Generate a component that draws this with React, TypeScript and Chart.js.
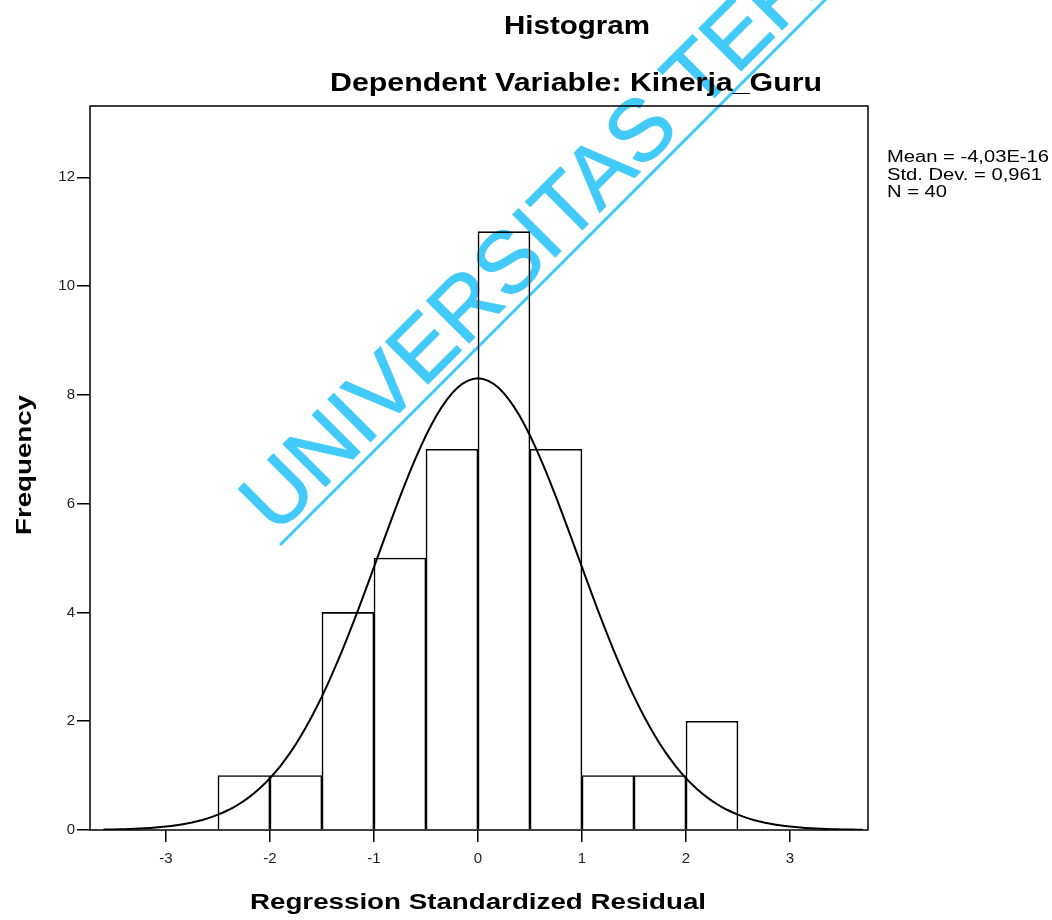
import React, { useEffect, useRef } from "react";
import { Chart, registerables } from "chart.js";

Chart.register(...registerables);

// Histogram bins (width 0.5) and their frequencies
const BIN_CENTERS = [-2.25, -1.75, -1.25, -0.75, -0.25, 0.25, 0.75, 1.25, 1.75, 2.25];
const FREQUENCIES = [1, 1, 4, 5, 7, 11, 7, 1, 1, 2];
const BIN_WIDTH = 0.5;

// Axis ticks
const X_TICKS = [-3, -2, -1, 0, 1, 2, 3];
const Y_TICKS = [0, 2, 4, 6, 8, 10, 12];

// Summary statistics shown next to the plot
const MEAN = -4.03e-16;
const STD_DEV = 0.961;
const N_CASES = 40;
const STATS_LINES = ["Mean = -4,03E-16", "Std. Dev. = 0,961", "N = 40"];

const TITLE = "Histogram";
const SUBTITLE = "Dependent Variable: Kinerja_Guru";
const X_TITLE = "Regression Standardized Residual";
const Y_TITLE = "Frequency";
const WATERMARK = "UNIVERSITAS TERBUKA";

const X_MIN = -3.73;
const X_MAX = 3.75;
const Y_MAX = 13.31;
const CURVE_FROM = -3.6;
const CURVE_TO = 3.7;
const CURVE_STEP = 0.05;

const FONT = '"Liberation Sans", Arial, Helvetica, sans-serif';

// Fitted normal curve, scaled to counts per bin
function normalCurve() {
  const pts: { x: number; y: number }[] = [];
  const scale = (N_CASES * BIN_WIDTH) / (STD_DEV * Math.sqrt(2 * Math.PI));
  const steps = Math.round((CURVE_TO - CURVE_FROM) / CURVE_STEP);
  for (let i = 0; i <= steps; i++) {
    const x = CURVE_FROM + i * CURVE_STEP;
    const z = (x - MEAN) / STD_DEV;
    pts.push({ x, y: scale * Math.exp(-0.5 * z * z) });
  }
  return pts;
}

// Draw text centred at (cx, cy), stretched along its baseline to a given width
function fitText(
  ctx: CanvasRenderingContext2D,
  text: string,
  cx: number,
  cy: number,
  font: string,
  width: number,
  angle = 0
) {
  ctx.save();
  ctx.font = font;
  const w = ctx.measureText(text).width;
  ctx.translate(cx, cy);
  ctx.rotate(angle);
  ctx.scale(width / w, 1);
  ctx.textAlign = "center";
  ctx.textBaseline = "middle";
  ctx.fillStyle = "#000";
  ctx.fillText(text, 0, 0);
  ctx.restore();
}

const decorations = {
  id: "decorations",
  afterDatasetsDraw(chart: any) {
    const { ctx, chartArea } = chart;
    ctx.save();
    ctx.strokeStyle = "#000";
    ctx.lineWidth = 1.5;
    ctx.strokeRect(
      chartArea.left,
      chartArea.top,
      chartArea.right - chartArea.left,
      chartArea.bottom - chartArea.top
    );
    ctx.restore();
  },
  afterDraw(chart: any) {
    const { ctx } = chart;
    fitText(ctx, TITLE, 577, 27, `bold 25px ${FONT}`, 146);
    fitText(ctx, SUBTITLE, 576, 84, `bold 25px ${FONT}`, 492);
    fitText(ctx, X_TITLE, 478, 903, `bold 22px ${FONT}`, 456);
    fitText(ctx, Y_TITLE, 25, 465, `bold 22px ${FONT}`, 140, -Math.PI / 2);

    // statistics block
    ctx.save();
    ctx.font = `16px ${FONT}`;
    const sx = 162 / ctx.measureText(STATS_LINES[0]).width;
    ctx.fillStyle = "#000";
    ctx.textBaseline = "middle";
    ctx.textAlign = "left";
    STATS_LINES.forEach((line, i) => {
      ctx.save();
      ctx.translate(887, 158 + i * 17.5);
      ctx.scale(sx, 1);
      ctx.fillText(line, 0, 0);
      ctx.restore();
    });
    ctx.restore();

    // diagonal watermark
    ctx.save();
    ctx.globalCompositeOperation = "darken";
    ctx.fillStyle = "rgb(66,202,250)";
    ctx.strokeStyle = "rgb(66,202,250)";
    ctx.lineWidth = 3;
    ctx.beginPath();
    ctx.moveTo(280, 545);
    ctx.lineTo(840, -15);
    ctx.stroke();
    ctx.translate(276, 536);
    ctx.rotate(-Math.PI / 4);
    ctx.font = `87px ${FONT}`;
    ctx.textBaseline = "alphabetic";
    ctx.textAlign = "left";
    ctx.lineWidth = 1.2;
    ctx.fillText(WATERMARK, 0, 0);
    ctx.strokeText(WATERMARK, 0, 0);
    ctx.restore();
  },
};

export default function App() {
  const canvasRef = useRef<HTMLCanvasElement | null>(null);

  useEffect(() => {
    const canvas = canvasRef.current;
    if (!canvas) return;
    const tickFont = { family: FONT, size: 15 };
    const chart = new Chart(canvas, {
      type: "bar",
      data: {
        datasets: [
          {
            type: "line",
            data: normalCurve(),
            borderColor: "#000",
            borderWidth: 2,
            pointRadius: 0,
            tension: 0,
            fill: false,
            order: 0,
          } as any,
          {
            type: "bar",
            data: BIN_CENTERS.map((x, i) => ({ x, y: FREQUENCIES[i] })),
            backgroundColor: "#fff",
            borderColor: "#000",
            borderWidth: 1.6,
            barPercentage: 1,
            categoryPercentage: 1,
            order: 1,
          } as any,
        ],
      },
      options: {
        responsive: false,
        animation: false,
        devicePixelRatio: 1,
        layout: { padding: { left: 0, right: 184, top: 106, bottom: 0 } },
        plugins: {
          legend: { display: false },
          title: { display: false },
          tooltip: { enabled: false },
        },
        scales: {
          x: {
            type: "linear",
            min: X_MIN,
            max: X_MAX,
            offset: false,
            afterFit: (s: any) => {
              s.height = 90;
            },
            afterBuildTicks: (s: any) => {
              s.ticks = X_TICKS.map((v) => ({ value: v }));
            },
            grid: {
              offset: false,
              drawOnChartArea: false,
              drawTicks: true,
              tickLength: 12,
              color: "#000",
              lineWidth: 1.5,
            },
            border: { display: false },
            ticks: {
              font: tickFont,
              color: "#222",
              padding: 8,
              maxRotation: 0,
              autoSkip: false,
              callback: (v: any) => String(v),
            },
          },
          y: {
            type: "linear",
            min: 0,
            max: Y_MAX,
            afterFit: (s: any) => {
              s.width = 90;
            },
            afterBuildTicks: (s: any) => {
              s.ticks = Y_TICKS.map((v) => ({ value: v }));
            },
            grid: {
              drawOnChartArea: false,
              drawTicks: true,
              tickLength: 13,
              color: "#000",
              lineWidth: 1.5,
            },
            border: { display: false },
            ticks: {
              font: tickFont,
              color: "#222",
              padding: 2,
              autoSkip: false,
              callback: (v: any) => String(v),
            },
          },
        },
      },
      plugins: [decorations],
    } as any);
    return () => chart.destroy();
  }, []);

  return (
    <div style={{ position: "absolute", left: 0, top: 0, width: 1052, height: 920, background: "#fff" }}>
      <canvas ref={canvasRef} width={1052} height={920} style={{ display: "block" }} />
    </div>
  );
}
